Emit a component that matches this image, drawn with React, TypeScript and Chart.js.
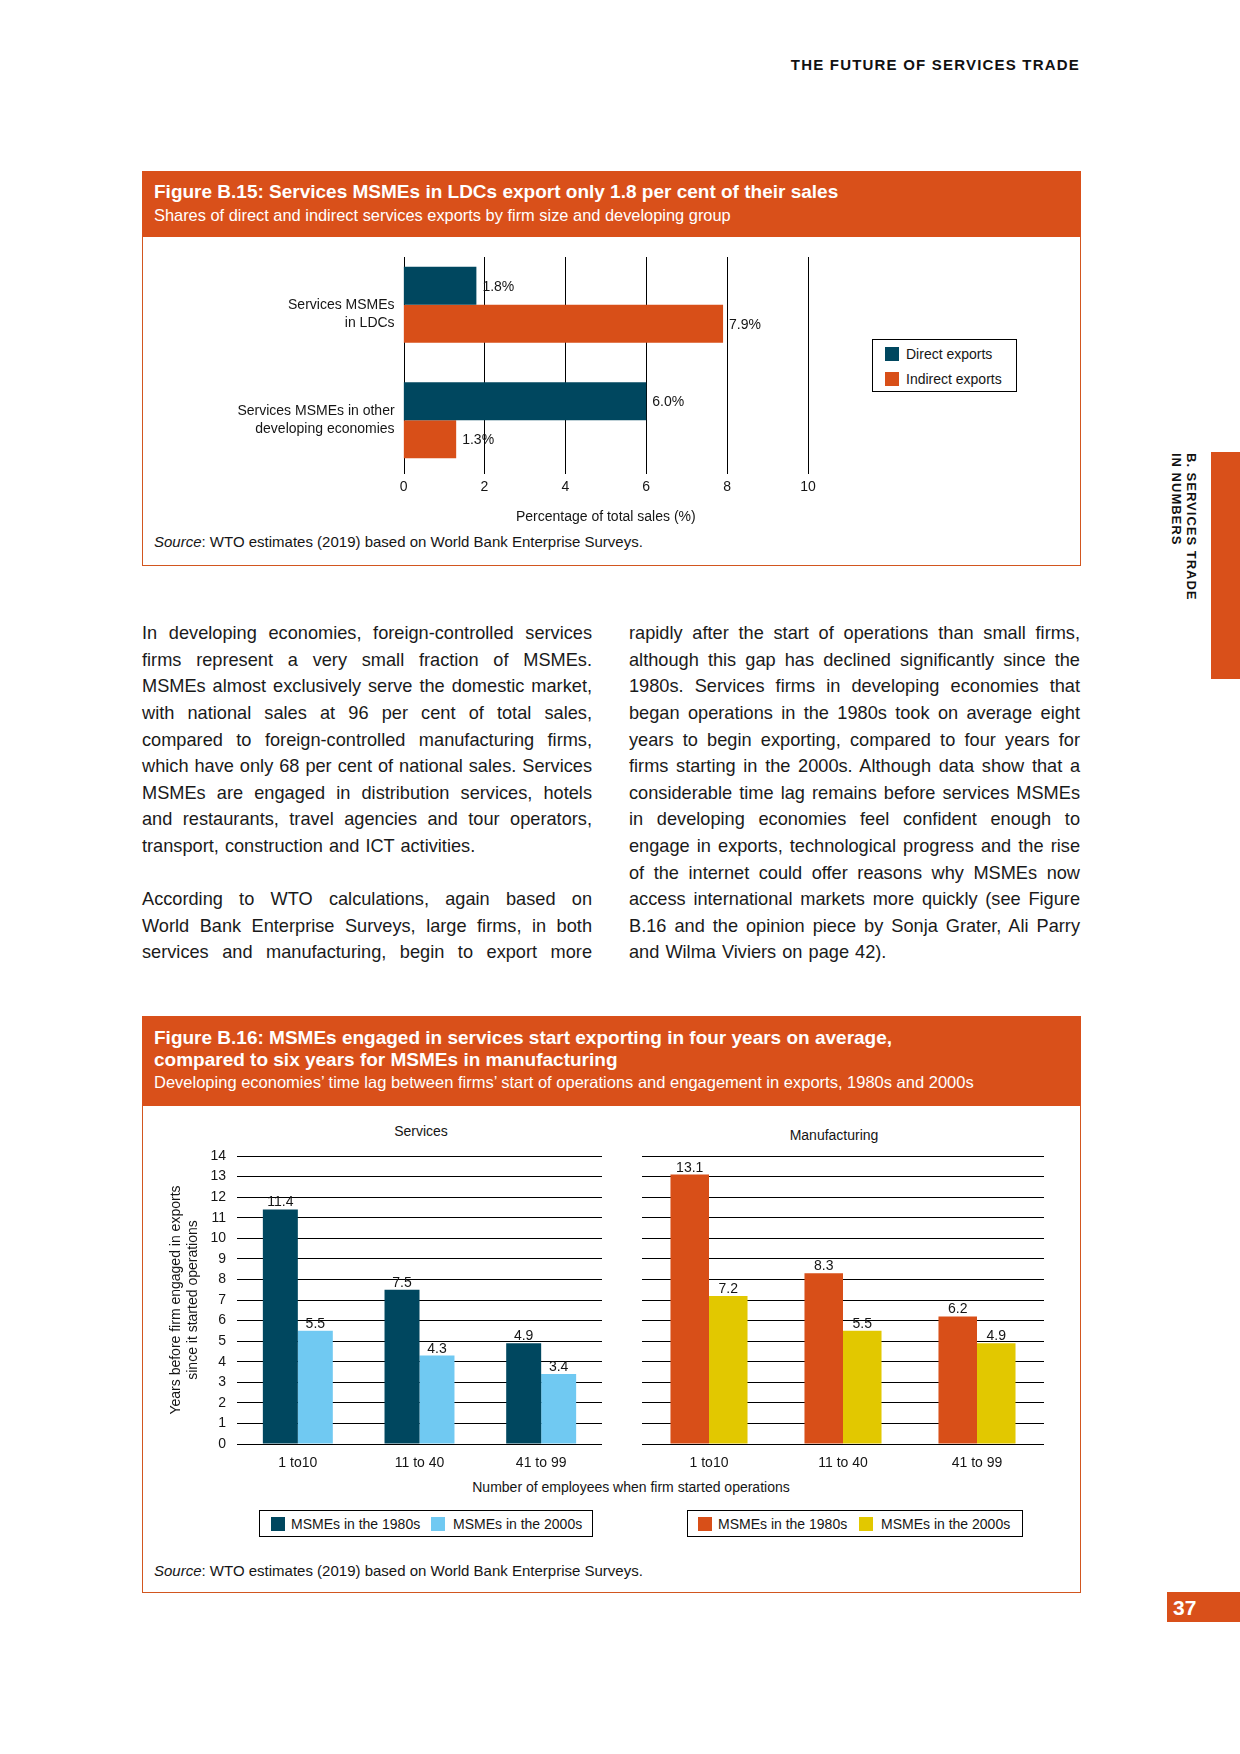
import React, { useEffect, useRef } from "react";
import { Chart, registerables } from "chart.js";

Chart.register(...registerables);

const FONT = '"Liberation Sans", Arial, Helvetica, sans-serif';
Chart.defaults.font.family = FONT;

const NAVY = "#00475f";
const ORANGE = "#d84f18";
const LIGHT_BLUE = "#70c9f2";
const YELLOW = "#e2c800";
const HEADER_ORANGE = "#d9501a";
const BORDER_ORANGE = "#d2561f";
const TEXT = "#151515";

// ---------- Figure B.15 data ----------
const b15Categories = [
  ["Services MSMEs", "in LDCs"],
  ["Services MSMEs in other", "developing economies"],
];
const b15Direct = [1.8, 6.0];
const b15Indirect = [7.9, 1.3];
const b15TickValues = [0, 2, 4, 6, 8, 10];
const b15SeriesNames = ["Direct exports", "Indirect exports"];

// ---------- Figure B.16 data ----------
const b16Categories = ["1 to10", "11 to 40", "41 to 99"];
const services1980s = [11.4, 7.5, 4.9];
const services2000s = [5.5, 4.3, 3.4];
const manufacturing1980s = [13.1, 8.3, 6.2];
const manufacturing2000s = [7.2, 5.5, 4.9];
const b16SeriesNames = ["MSMEs in the 1980s", "MSMEs in the 2000s"];
const b16YTitle = ["Years before firm engaged in exports", "since it started operations"];

// ---------- Body text ----------
const leftColumn = [
  "In developing economies, foreign-controlled services",
  "firms represent a very small fraction of MSMEs.",
  "MSMEs almost exclusively serve the domestic market,",
  "with national sales at 96 per cent of total sales,",
  "compared to foreign-controlled manufacturing firms,",
  "which have only 68 per cent of national sales. Services",
  "MSMEs are engaged in distribution services, hotels",
  "and restaurants, travel agencies and tour operators,",
  "transport, construction and ICT activities.",
  "",
  "According to WTO calculations, again based on",
  "World Bank Enterprise Surveys, large firms, in both",
  "services and manufacturing, begin to export more",
];
const leftLastLines = [8];
const rightColumn = [
  "rapidly after the start of operations than small firms,",
  "although this gap has declined significantly since the",
  "1980s. Services firms in developing economies that",
  "began operations in the 1980s took on average eight",
  "years to begin exporting, compared to four years for",
  "firms starting in the 2000s. Although data show that a",
  "considerable time lag remains before services MSMEs",
  "in developing economies feel confident enough to",
  "engage in exports, technological progress and the rise",
  "of the internet could offer reasons why MSMEs now",
  "access international markets more quickly (see Figure",
  "B.16 and the opinion piece by Sonja Grater, Ali Parry",
  "and Wilma Viviers on page 42).",
];
const rightLastLines = [12];

// ---------- Plugins ----------
const b15GridPlugin = {
  id: "b15Grid",
  beforeDatasetsDraw(chart: any) {
    const { ctx, chartArea, scales } = chart;
    ctx.save();
    ctx.strokeStyle = "#000";
    ctx.lineWidth = 1;
    b15TickValues.forEach((v) => {
      const x = Math.round(scales.x.getPixelForValue(v)) + 0.5;
      ctx.beginPath();
      ctx.moveTo(x, chartArea.top + 10);
      ctx.lineTo(x, chartArea.bottom - 4);
      ctx.stroke();
    });
    ctx.restore();
  },
};

const hValueLabels = {
  id: "hValueLabels",
  afterDatasetsDraw(chart: any) {
    const ctx = chart.ctx;
    ctx.save();
    ctx.font = `14px ${FONT}`;
    ctx.fillStyle = TEXT;
    ctx.textAlign = "left";
    ctx.textBaseline = "middle";
    chart.data.datasets.forEach((ds: any, i: number) => {
      const meta = chart.getDatasetMeta(i);
      meta.data.forEach((el: any, j: number) => {
        ctx.fillText(Number(ds.data[j]).toFixed(1) + "%", el.x + 6, el.y + 1);
      });
    });
    ctx.restore();
  },
};

const vValueLabels = {
  id: "vValueLabels",
  afterDatasetsDraw(chart: any) {
    const ctx = chart.ctx;
    ctx.save();
    ctx.font = `14px ${FONT}`;
    ctx.fillStyle = TEXT;
    ctx.textAlign = "center";
    ctx.textBaseline = "alphabetic";
    chart.data.datasets.forEach((ds: any, i: number) => {
      const meta = chart.getDatasetMeta(i);
      meta.data.forEach((el: any, j: number) => {
        ctx.fillText(Number(ds.data[j]).toFixed(1), el.x, el.y - 3);
      });
    });
    ctx.restore();
  },
};

function fixWidth(w: number) {
  return (s: any) => {
    s.width = w;
    s.paddingTop = 0;
    s.paddingBottom = 0;
  };
}
function fixHeight(h: number) {
  return (s: any) => {
    s.height = h;
    s.paddingLeft = 0;
    s.paddingRight = 0;
  };
}

// ---------- Chart configs ----------
function makeB15Config(): any {
  return {
    type: "bar",
    data: {
      labels: b15Categories,
      datasets: [
        { label: b15SeriesNames[0], data: b15Direct, backgroundColor: NAVY, categoryPercentage: 0.66, barPercentage: 1 },
        { label: b15SeriesNames[1], data: b15Indirect, backgroundColor: ORANGE, categoryPercentage: 0.66, barPercentage: 1 },
      ],
    },
    plugins: [b15GridPlugin, hValueLabels],
    options: {
      indexAxis: "y",
      animation: false,
      responsive: false,
      maintainAspectRatio: false,
      layout: { padding: { top: 7, bottom: 0, left: 0, right: 32 } },
      plugins: { legend: { display: false }, tooltip: { enabled: false } },
      scales: {
        x: {
          min: 0,
          max: 10,
          ticks: { stepSize: 2, padding: 1, color: TEXT, font: { size: 14 } },
          grid: { display: false, drawTicks: false },
          border: { display: false },
          title: {
            display: true,
            text: "Percentage of total sales (%)",
            color: TEXT,
            font: { size: 14 },
            padding: { top: 4, bottom: 4 },
          },
          afterFit: fixHeight(52),
        },
        y: {
          ticks: {
            padding: 9,
            color: TEXT,
            font: { size: 14, lineHeight: 1.29 },
            callback: (_v: any, idx: number) => (idx === 0 ? ["", ...b15Categories[0]] : b15Categories[idx]),
          },
          grid: { display: false, drawTicks: false },
          border: { display: false },
          afterFit: fixWidth(253.6),
        },
      },
    },
  };
}

function makeB16Config(d1: number[], d2: number[], c1: string, c2: string, withAxis: boolean): any {
  return {
    type: "bar",
    data: {
      labels: b16Categories,
      datasets: [
        { label: b16SeriesNames[0], data: d1, backgroundColor: c1, categoryPercentage: 0.575, barPercentage: 1 },
        { label: b16SeriesNames[1], data: d2, backgroundColor: c2, categoryPercentage: 0.575, barPercentage: 1 },
      ],
    },
    plugins: [vValueLabels],
    options: {
      animation: false,
      responsive: false,
      maintainAspectRatio: false,
      layout: { padding: withAxis ? { top: 10, bottom: 0, left: 4, right: 8 } : { top: 10, bottom: 0, left: 6, right: 6 } },
      plugins: { legend: { display: false }, tooltip: { enabled: false } },
      scales: {
        x: {
          ticks: { padding: 11, color: TEXT, font: { size: 14 } },
          grid: { display: false, drawTicks: false },
          border: { display: false },
          afterFit: fixHeight(30),
        },
        y: {
          min: 0,
          max: 14,
          ticks: { stepSize: 1, padding: 11, color: TEXT, font: { size: 14 }, display: withAxis },
          grid: { color: "#000", lineWidth: 1, drawTicks: false },
          border: { display: false },
          title: {
            display: withAxis,
            text: b16YTitle,
            color: TEXT,
            font: { size: 14, lineHeight: 1.2 },
            padding: { top: 4, bottom: 4 },
          },
          afterFit: fixWidth(withAxis ? 73 : 0),
        },
      },
    },
  };
}

// ---------- Components ----------
function ChartCanvas(props: { make: () => any; left: number; top: number; width: number; height: number }) {
  const ref = useRef<HTMLCanvasElement>(null);
  useEffect(() => {
    const chart = new Chart(ref.current as HTMLCanvasElement, props.make());
    return () => chart.destroy();
  }, []);
  return (
    <canvas
      ref={ref}
      width={props.width}
      height={props.height}
      style={{ position: "absolute", left: props.left, top: props.top, width: props.width, height: props.height }}
    />
  );
}

function Txt(props: {
  x: number;
  cy: number;
  size: number;
  lh?: number;
  bold?: boolean;
  color?: string;
  children: any;
  align?: "left" | "center" | "right";
  w?: number;
  ls?: number;
}) {
  const lh = props.lh ?? Math.round(props.size * 1.3);
  const w = props.w ?? 0;
  let left = props.x;
  if (props.align === "center") left = props.x - w / 2;
  if (props.align === "right") left = props.x - w;
  return (
    <div
      style={{
        position: "absolute",
        left,
        top: props.cy - lh / 2,
        width: w || undefined,
        height: lh,
        lineHeight: lh + "px",
        fontSize: props.size,
        fontWeight: props.bold ? 700 : 400,
        color: props.color ?? TEXT,
        textAlign: props.align ?? "left",
        whiteSpace: "nowrap",
        letterSpacing: props.ls ? props.ls + "px" : undefined,
        fontFamily: FONT,
      }}
    >
      {props.children}
    </div>
  );
}

function Column(props: { lines: string[]; lastLines: number[]; x: number; w: number }) {
  const top0 = 633.5;
  const lh = 26.6;
  return (
    <>
      {props.lines.map((t, i) =>
        t ? (
          <div
            key={i}
            style={{
              position: "absolute",
              left: props.x,
              top: top0 + i * lh - lh / 2,
              width: props.w,
              height: lh,
              lineHeight: lh + "px",
              fontSize: 18.2,
              color: "#1a1a1a",
              fontFamily: FONT,
              textAlign: "justify",
              textAlignLast: props.lastLines.includes(i) ? "left" : "justify",
              wordSpacing: props.lastLines.includes(i) ? "1px" : undefined,
            } as any}
          >
            {t}
          </div>
        ) : null
      )}
    </>
  );
}

function Swatch(props: { x: number; y: number; color: string; w?: number; h?: number }) {
  return (
    <div
      style={{
        position: "absolute",
        left: props.x,
        top: props.y,
        width: props.w ?? 14,
        height: props.h ?? 14,
        background: props.color,
      }}
    />
  );
}

function Box(props: { x: number; y: number; w: number; h: number; color: string }) {
  return (
    <div
      style={{
        position: "absolute",
        left: props.x,
        top: props.y,
        width: props.w,
        height: props.h,
        border: `1px solid ${props.color}`,
        boxSizing: "border-box",
        background: "#fff",
      }}
    />
  );
}

export default function App() {
  useEffect(() => {
    document.body.style.margin = "0";
    document.body.style.background = "#fff";
  }, []);

  return (
    <div style={{ position: "absolute", left: 0, top: 0, width: 1240, height: 1754, background: "#fff", overflow: "hidden", fontFamily: FONT }}>
      {/* running header */}
      <Txt x={1080} cy={65} size={15} bold align="right" w={400} ls={1.2} color="#111">
        THE FUTURE OF SERVICES TRADE
      </Txt>

      {/* side tab */}
      <div style={{ position: "absolute", left: 1211, top: 452, width: 29, height: 227, background: HEADER_ORANGE }} />
      <div
        style={{
          position: "absolute",
          left: 1169,
          top: 453,
          writingMode: "vertical-rl",
          lineHeight: "15px",
          fontSize: 13,
          fontWeight: 700,
          letterSpacing: "1px",
          color: "#111",
          fontFamily: FONT,
          whiteSpace: "nowrap",
        } as any}
      >
        B. SERVICES TRADE
        <br />
        IN NUMBERS
      </div>

      {/* page number */}
      <div style={{ position: "absolute", left: 1167, top: 1592, width: 73, height: 30, background: HEADER_ORANGE }} />
      <Txt x={1173} cy={1607} size={21} bold color="#fff">
        37
      </Txt>

      {/* ================= Figure B.15 ================= */}
      <Box x={142} y={171} w={939} h={395} color={BORDER_ORANGE} />
      <div style={{ position: "absolute", left: 142, top: 171, width: 939, height: 66, background: HEADER_ORANGE }} />
      <Txt x={154} cy={191} size={19} bold color="#fff">
        Figure B.15: Services MSMEs in LDCs export only 1.8 per cent of their sales
      </Txt>
      <Txt x={154} cy={215} size={16.4} color="#fff">
        Shares of direct and indirect services exports by firm size and developing group
      </Txt>
      <ChartCanvas make={makeB15Config} left={150} top={240} width={690} height={290} />
      <Box x={872} y={339} w={145} h={53} color="#000" />
      <Swatch x={885} y={347} color={NAVY} />
      <Txt x={906} cy={354} size={14}>
        {b15SeriesNames[0]}
      </Txt>
      <Swatch x={885} y={372} color={ORANGE} />
      <Txt x={906} cy={379} size={14}>
        {b15SeriesNames[1]}
      </Txt>
      <Txt x={154} cy={542} size={15}>
        <i>Source</i>: WTO estimates (2019) based on World Bank Enterprise Surveys.
      </Txt>

      {/* ================= Body text ================= */}
      <Column lines={leftColumn} lastLines={leftLastLines} x={142} w={450} />
      <Column lines={rightColumn} lastLines={rightLastLines} x={629} w={451} />

      {/* ================= Figure B.16 ================= */}
      <Box x={142} y={1016} w={939} h={577} color={BORDER_ORANGE} />
      <div style={{ position: "absolute", left: 142, top: 1016, width: 939, height: 90, background: HEADER_ORANGE }} />
      <Txt x={154} cy={1037} size={19} bold color="#fff">
        Figure B.16: MSMEs engaged in services start exporting in four years on average,
      </Txt>
      <Txt x={154} cy={1059} size={19} bold color="#fff">
        compared to six years for MSMEs in manufacturing
      </Txt>
      <Txt x={154} cy={1082} size={16.5} color="#fff">
        Developing economies’ time lag between firms’ start of operations and engagement in exports, 1980s and 2000s
      </Txt>

      <Txt x={421} cy={1131} size={14} align="center" w={200}>
        Services
      </Txt>
      <Txt x={834} cy={1135} size={14} align="center" w={200}>
        Manufacturing
      </Txt>

      <ChartCanvas
        make={() => makeB16Config(services1980s, services2000s, NAVY, LIGHT_BLUE, true)}
        left={160}
        top={1146}
        width={450}
        height={328}
      />
      <ChartCanvas
        make={() => makeB16Config(manufacturing1980s, manufacturing2000s, ORANGE, YELLOW, false)}
        left={636}
        top={1146}
        width={414}
        height={328}
      />

      <Txt x={631} cy={1487} size={14} align="center" w={500}>
        Number of employees when firm started operations
      </Txt>

      <Box x={259} y={1510} w={334} h={27} color="#000" />
      <Swatch x={271} y={1517} color={NAVY} />
      <Txt x={291} cy={1524} size={14}>
        {b16SeriesNames[0]}
      </Txt>
      <Swatch x={431} y={1517} color={LIGHT_BLUE} />
      <Txt x={453} cy={1524} size={14}>
        {b16SeriesNames[1]}
      </Txt>

      <Box x={687} y={1510} w={336} h={27} color="#000" />
      <Swatch x={698} y={1517} color={ORANGE} />
      <Txt x={718} cy={1524} size={14}>
        {b16SeriesNames[0]}
      </Txt>
      <Swatch x={859} y={1517} color={YELLOW} />
      <Txt x={881} cy={1524} size={14}>
        {b16SeriesNames[1]}
      </Txt>

      <Txt x={154} cy={1571} size={15}>
        <i>Source</i>: WTO estimates (2019) based on World Bank Enterprise Surveys.
      </Txt>
    </div>
  );
}
